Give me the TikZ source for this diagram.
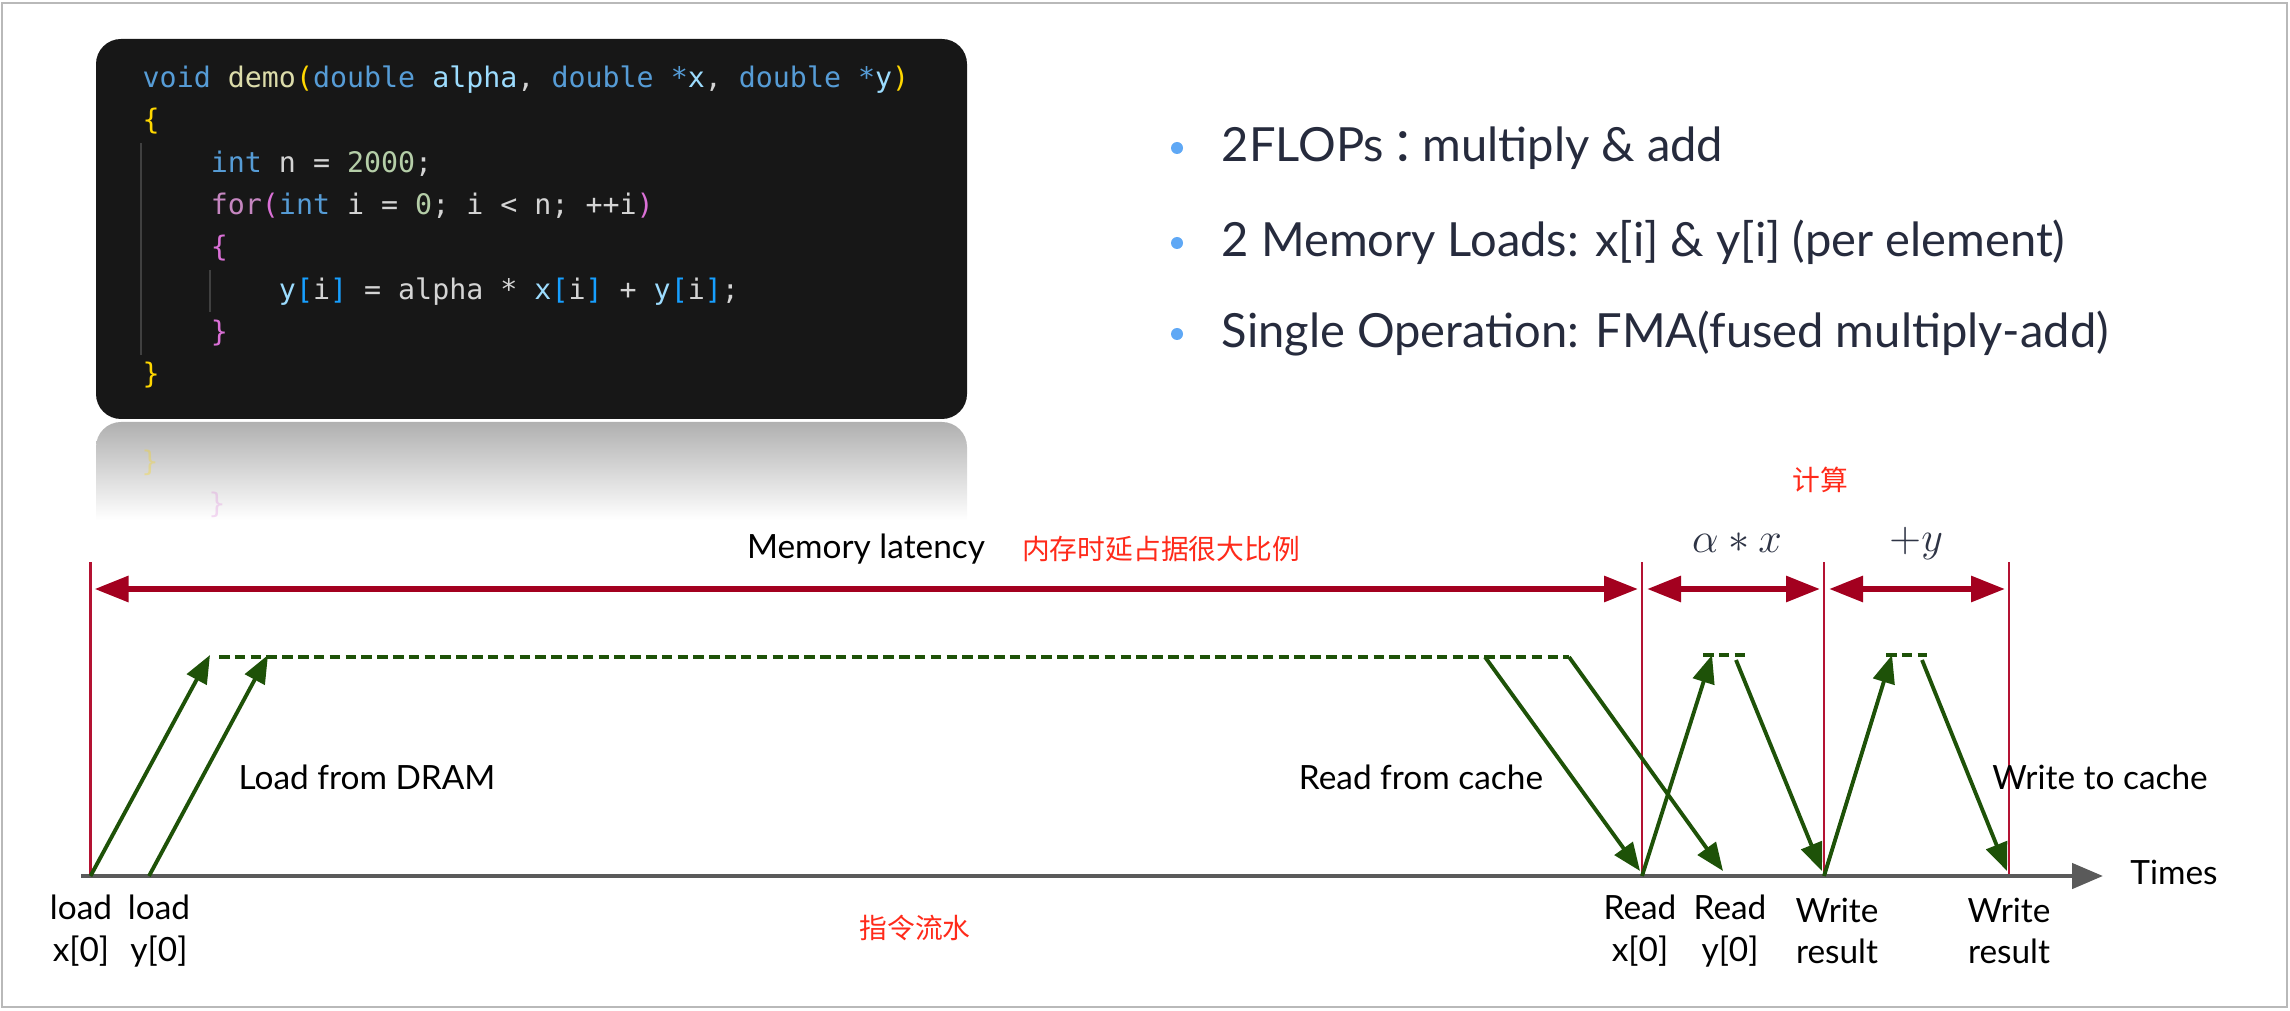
\documentclass[tikz,border=0pt]{standalone}
\usepackage{fontspec}
\setmainfont{Lato}
\setmonofont{DejaVu Sans Mono}
\newfontfamily\cjk{Noto Sans CJK SC}
\usetikzlibrary{arrows.meta, positioning, calc}

\definecolor{codebg}{HTML}{171717}
\definecolor{ckwc}{HTML}{569CD6}
\definecolor{cfnc}{HTML}{DCDCAA}
\definecolor{cvac}{HTML}{9CDCFE}
\definecolor{cnuc}{HTML}{B5CEA8}
\definecolor{cctc}{HTML}{C586C0}
\definecolor{ctxt}{HTML}{D4D4D4}
\definecolor{cbac}{HTML}{FFD700}
\definecolor{cbbc}{HTML}{DA70D6}
\definecolor{cbcc}{HTML}{179FFF}
\definecolor{cguide}{HTML}{404040}
\definecolor{bulltxt}{HTML}{262B3D}
\definecolor{bulldot}{HTML}{5FA8F5}
\definecolor{spanred}{HTML}{A3001F}
\definecolor{vred}{HTML}{B41232}
\definecolor{flowgreen}{HTML}{1E5208}
\definecolor{axisgray}{HTML}{5A5A5A}
\definecolor{cnred}{HTML}{FF2A1A}
\definecolor{mathtxt}{HTML}{2E3445}

\newcommand\ckw[1]{\textcolor{ckwc}{#1}}
\newcommand\cfn[1]{\textcolor{cfnc}{#1}}
\newcommand\cva[1]{\textcolor{cvac}{#1}}
\newcommand\cnu[1]{\textcolor{cnuc}{#1}}
\newcommand\cct[1]{\textcolor{cctc}{#1}}
\newcommand\cba[1]{\textcolor{cbac}{#1}}
\newcommand\cbb[1]{\textcolor{cbbc}{#1}}
\newcommand\cbc[1]{\textcolor{cbcc}{#1}}
\newcommand\ind{\phantom{0000}}

\begin{document}
\begin{tikzpicture}[
    >=Stealth,
    font=\fontsize{9.5}{11.5}\selectfont,
    lbl/.style={align=center, inner sep=0pt, font=\fontsize{9.5}{11.9}\selectfont},
    cn/.style={text=cnred, inner sep=0pt, font=\cjk\fontsize{7.9}{9}\selectfont},
    bullet/.style={anchor=base west, inner sep=0pt, text=bulltxt, font=\fontsize{13.4}{16}\selectfont},
    dot/.style={circle, fill=bulldot, inner sep=0pt, minimum size=0.12cm},
    code/.style={anchor=base west, align=left, inner sep=0pt, text=ctxt, font=\ttfamily\fontsize{8.05}{12.06}\selectfont},
    vline/.style={vred, line width=0.6pt},
    span/.style={spanred, line width=1.7pt, {Triangle[length=0.34cm,width=0.25cm]}-{Triangle[length=0.34cm,width=0.25cm]}},
    flow/.style={flowgreen, line width=1.1pt, -{Triangle[length=0.28cm,width=0.22cm]}},
    wait/.style={flowgreen, line width=1.2pt, dash pattern=on 3pt off 1.5pt},
    axis/.style={axisgray, line width=1.3pt, -{Triangle[length=0.31cm,width=0.25cm]}}
]
\useasboundingbox (0,0) rectangle (22.9,10.1);
\draw[gray!55, line width=0.6pt] (0.02,0.03) rectangle (22.87,10.07);

% code snippet with its reflection
\shade[top color=gray!62, bottom color=white] (0.96,4.90) -- (0.96,5.63) arc[start angle=180, end angle=90, radius=0.25] -- (9.42,5.88) arc[start angle=90, end angle=0, radius=0.25] -- (9.67,4.90) -- cycle;
\node[text=cbac, opacity=0.3, yscale=-1, transform shape, font=\ttfamily\fontsize{7.94}{9}\selectfont] (refa) at (1.50,5.47) {\}};
\node[text=cbbc, opacity=0.25, yscale=-1, transform shape, font=\ttfamily\fontsize{7.94}{9}\selectfont] (refb) at (2.17,5.05) {\}};
\fill[codebg, rounded corners=0.25cm] (0.96,5.91) rectangle (9.67,9.71);
\draw[cguide, line width=0.5pt] (1.41,8.67) -- (1.41,6.55);
\draw[cguide, line width=0.5pt] (2.10,7.40) -- (2.10,6.98);
% base anchor sits on the last line
\node[code] (src) at (1.42,6.26) {\ckw{void} \cfn{demo}\cba{(}\ckw{double} \cva{alpha}, \ckw{double} \ckw{*}\cva{x}, \ckw{double} \ckw{*}\cva{y}\cba{)}\\
\cba{\{}\\
\ind\ckw{int} n = \cnu{2000};\\
\ind\cct{for}\cbb{(}\ckw{int} i = \cnu{0}; i < n; ++i\cbb{)}\\
\ind\cbb{\{}\\
\ind\ind\cva{y}\cbc{[}i\cbc{]} = alpha * \cva{x}\cbc{[}i\cbc{]} + \cva{y}\cbc{[}i\cbc{]};\\
\ind\cbb{\}}\\
\cba{\}}};

% bullets
\node[dot] (d1) at (11.77,8.62) {};
\node[dot] (d2) at (11.77,7.67) {};
\node[dot] (d3) at (11.77,6.76) {};
\node[bullet] (b1) at (12.21,8.48) {2FLOPs\,{\cjk ：}\hspace{-0.35em}multiply \& add};
\node[bullet] (b2) at (12.21,7.53) {2 Memory Loads: x[i] \& y[i] (per element)};
\node[bullet] (b3) at (12.21,6.62) {Single Operation: FMA(fused multiply-add)};

% time axis
\coordinate (t0) at (0.905,1.34);
\coordinate (t1) at (1.49,1.34);
\coordinate (rx) at (16.42,1.34);
\coordinate (wa) at (18.24,1.34);
\coordinate (wb) at (20.09,1.34);
\coordinate (tend) at (21.03,1.34);
\coordinate (v0) at (0.905,4.48);
\coordinate (v1) at (16.42,4.48);
\coordinate (v2) at (18.24,4.48);
\coordinate (v3) at (20.09,4.48);

\draw[vline] (t0) -- (v0);
\draw[vline] (rx) -- (v1);
\draw[vline] (wa) -- (v2);
\draw[vline] (wb) -- (v3);
\draw[axis] (0.81,1.34) -- (tend);

\draw[span] ($(v0)+(0.04,-0.27)$) -- ($(v1)+(-0.04,-0.27)$);
\draw[span] ($(v1)+(0.05,-0.27)$) -- ($(v2)+(-0.04,-0.27)$);
\draw[span] ($(v2)+(0.05,-0.27)$) -- ($(v3)+(-0.04,-0.27)$);

\node (lat) at (8.66,4.61) {Memory latency};
\node[cn] (latcn) at (11.61,4.61) {内存时延占据很大比例};
\node[cn] (calc) at (18.20,5.30) {计算};
\node[text=mathtxt] (mul) at (17.37,4.67) {\fontsize{12}{14}\selectfont $\alpha * x$};
\node[text=mathtxt] (add) at (19.16,4.67) {\fontsize{12}{14}\selectfont $+y$};

% memory traffic
\coordinate (lx) at (2.10,3.55);
\coordinate (ly) at (2.68,3.55);
\coordinate (w0) at (2.19,3.53);
\coordinate (w1) at (15.69,3.53);
\coordinate (c0) at (14.85,3.53);
\coordinate (ux) at (17.12,3.55);
\coordinate (uy) at (18.92,3.55);

\draw[flow] (t0) -- (lx);
\draw[flow] (t1) -- (ly);
\draw[wait] (w0) -- (w1);
\draw[flow] (c0) -- (16.40,1.39);
\draw[flow] (w1) -- (17.23,1.39);
\draw[flow] (rx) -- (ux);
\draw[wait] (17.03,3.55) -- (17.45,3.55);
\draw[flow] (17.36,3.50) -- (18.22,1.39);
\draw[flow] (wa) -- (uy);
\draw[wait] (18.86,3.55) -- (19.27,3.55);
\draw[flow] (19.22,3.50) -- (20.07,1.39);

\node[lbl] (dram) at (3.67,2.33) {Load from DRAM};
\node[lbl] (rcache) at (14.21,2.33) {Read from cache};
\node[lbl] (wcache) at (21.00,2.33) {Write to cache};

\node[lbl] (lx0) at (0.81,0.79) {load\\x[0]};
\node[lbl] (ly0) at (1.59,0.79) {load\\y[0]};
\node[lbl] (rx0) at (16.40,0.79) {Read\\x[0]};
\node[lbl] (ry0) at (17.30,0.79) {Read\\y[0]};
\node[lbl] (wr0) at (18.37,0.79) {Write\\result};
\node[lbl] (wr1) at (20.09,0.79) {Write\\result};
\node[lbl] (times) at (21.74,1.38) {Times};
\node[cn] (pipe) at (9.15,0.82) {指令流水};
\end{tikzpicture}
\end{document}
